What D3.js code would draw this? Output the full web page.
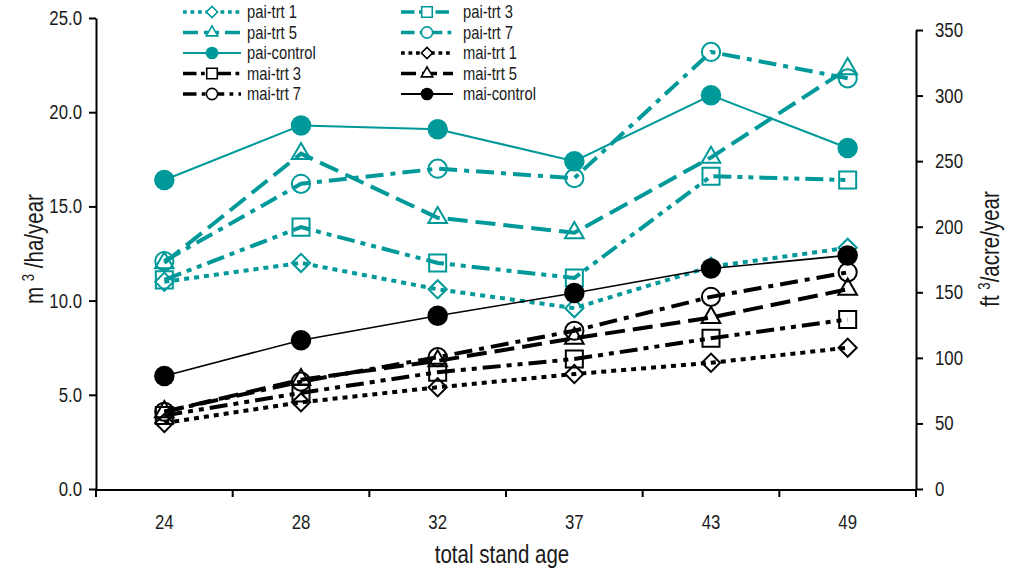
<!DOCTYPE html>
<html>
<head>
<meta charset="utf-8">
<script src="https://cdn.jsdelivr.net/npm/d3@7"></script>
<style>
  body { margin: 0; background: #fff; }
  text { font-family: "Liberation Sans", Arial, sans-serif; fill: #1a1a1a; }
</style>
</head>
<body>
<svg id="chart" width="1012" height="573"></svg>
<script>
// Stand age categories (x axis)
const ages = ["24", "28", "32", "37", "43", "49"];

// Periodic annual increment (m3/ha/year)
const paiTrt1    = [11.0, 12.0, 10.6, 9.6, 11.8, 12.8];
const paiTrt3    = [11.1, 13.9, 12.0, 11.2, 16.6, 16.4];
const paiTrt5    = [12.0, 17.8, 14.4, 13.6, 17.6, 22.3];
const paiTrt7    = [12.1, 16.2, 17.0, 16.5, 23.2, 21.8];
const paiControl = [16.4, 19.3, 19.1, 17.4, 20.9, 18.1];

// Mean annual increment (m3/ha/year)
const maiTrt1    = [3.5, 4.6, 5.4, 6.1, 6.7, 7.5];
const maiTrt3    = [3.9, 5.1, 6.2, 6.9, 8.0, 9.0];
const maiTrt5    = [4.1, 5.8, 6.8, 8.0, 9.1, 10.6];
const maiTrt7    = [4.1, 5.7, 7.0, 8.4, 10.2, 11.5];
const maiControl = [6.0, 7.9, 9.2, 10.4, 11.7, 12.4];

// Axis ticks
const metricTicks = [0, 5, 10, 15, 20, 25];
const imperialTicks = [0, 50, 100, 150, 200, 250, 300, 350];

const TEAL = "#009999";
const BLACK = "#000000";
const NARROW = 0.82;   // horizontal squeeze giving a narrow sans face

const dashes = {
  dot: "5,5",
  dashDotDot: "18,6,5,6,5,6",
  longDash: "20,8",
  dashDot: "18,7,5,7",
  solid: null
};

const series = [
  { name: "pai-trt 1",   values: paiTrt1,    color: TEAL,  dash: "dot",        marker: "diamond",  filled: false, width: 4 },
  { name: "pai-trt 3",   values: paiTrt3,    color: TEAL,  dash: "dashDotDot", marker: "square",   filled: false, width: 4 },
  { name: "pai-trt 5",   values: paiTrt5,    color: TEAL,  dash: "longDash",   marker: "triangle", filled: false, width: 4 },
  { name: "pai-trt 7",   values: paiTrt7,    color: TEAL,  dash: "dashDot",    marker: "circle",   filled: false, width: 4 },
  { name: "pai-control", values: paiControl, color: TEAL,  dash: "solid",      marker: "circle",   filled: true,  width: 2 },
  { name: "mai-trt 1",   values: maiTrt1,    color: BLACK, dash: "dot",        marker: "diamond",  filled: false, width: 4 },
  { name: "mai-trt 3",   values: maiTrt3,    color: BLACK, dash: "dashDotDot", marker: "square",   filled: false, width: 4 },
  { name: "mai-trt 5",   values: maiTrt5,    color: BLACK, dash: "longDash",   marker: "triangle", filled: false, width: 4 },
  { name: "mai-trt 7",   values: maiTrt7,    color: BLACK, dash: "dashDot",    marker: "circle",   filled: false, width: 4 },
  { name: "mai-control", values: maiControl, color: BLACK, dash: "solid",      marker: "circle",   filled: true,  width: 1.6 }
];

const svg = d3.select("#chart");

const plot = { left: 96, right: 916, top: 18, bottom: 489 };

const x = d3.scaleBand().domain(ages).range([plot.left, plot.right]).padding(0);
const yLeft = d3.scaleLinear().domain([0, 25]).range([plot.bottom, plot.top]);
const yRight = d3.scaleLinear().domain([0, 350]).range([plot.bottom, 30]);

const cx = d => x(d) + x.bandwidth() / 2;

// Squeeze text horizontally about its own anchor point
function condense(sel, k) {
  sel.each(function () {
    const t = d3.select(this);
    const tx = +t.attr("x") || 0, ty = +t.attr("y") || 0;
    t.attr("x", 0).attr("y", 0).attr("transform", `translate(${tx},${ty}) scale(${k},1)`);
  });
}

// Marker shapes, sized for the plot (scale = 1) or the legend (smaller)
function markerPath(type, filled, scale) {
  let sym, size;
  if (type === "circle") { sym = d3.symbolCircle; size = (filled ? 330 : 260) * scale * scale; }
  else if (type === "square") { sym = d3.symbolSquare; size = 290 * scale * scale; }
  else if (type === "triangle") { sym = d3.symbolTriangle; size = 150 * scale * scale; }
  else { sym = d3.symbolSquare; size = 165 * scale * scale; }
  return d3.symbol().type(sym).size(size)();
}

function drawMarker(g, s, px, py, scale, bgFill) {
  g.append("path")
    .attr("d", markerPath(s.marker, s.filled, scale))
    .attr("transform", `translate(${px},${py})` + (s.marker === "diamond" ? " rotate(45)" : ""))
    .attr("fill", s.filled ? s.color : bgFill)
    .attr("stroke", s.color)
    .attr("stroke-width", s.filled ? 0 : 2 * Math.max(scale, 0.8));
}

// Axes
const axisStyle = g => {
  g.selectAll("path.domain").attr("stroke", "#000").attr("stroke-width", 2);
  g.selectAll(".tick line").attr("stroke", "#000").attr("stroke-width", 2);
  g.selectAll("text").attr("font-size", 20.5).attr("fill", "#1a1a1a")
    .attr("font-family", '"Liberation Sans", Arial, sans-serif');
  condense(g.selectAll("text"), NARROW);
};

svg.append("g")
  .attr("transform", `translate(${plot.left},0)`)
  .call(d3.axisLeft(yLeft).tickValues(metricTicks).tickFormat(d3.format(".1f")).tickSize(7).tickSizeOuter(0).tickPadding(7))
  .call(axisStyle);

svg.append("g")
  .attr("transform", `translate(${plot.right},0)`)
  .call(d3.axisRight(yRight).tickValues(imperialTicks).tickSize(7).tickSizeOuter(0).tickPadding(12))
  .call(axisStyle);

const gBottom = svg.append("g")
  .attr("transform", `translate(0,${plot.bottom + 1})`)
  .call(d3.axisBottom(x).tickSize(0).tickSizeOuter(0).tickPadding(24))
  .call(axisStyle);
gBottom.selectAll(".tick line").remove();
gBottom.select("path.domain").attr("d", `M${plot.left},0H${plot.right}`);

// Category boundary ticks
const boundaries = ages.map(a => x(a)).concat([x.range()[1]]);
gBottom.selectAll("line.bound").data(boundaries).join("line")
  .attr("class", "bound")
  .attr("x1", d => d).attr("x2", d => d)
  .attr("y1", 0).attr("y2", 7)
  .attr("stroke", "#000").attr("stroke-width", 2);

// Axis titles
const leftTitle = svg.append("text")
  .attr("transform", `translate(43,249) rotate(-90) scale(${NARROW},1)`)
  .attr("text-anchor", "middle").attr("font-size", 25);
leftTitle.append("tspan").text("m  ");
leftTitle.append("tspan").text("3").attr("font-size", 16).attr("dy", -9);
leftTitle.append("tspan").text("  /ha/year").attr("dy", 9);

const rightTitle = svg.append("text")
  .attr("transform", `translate(999,249) rotate(-90) scale(${NARROW},1)`)
  .attr("text-anchor", "middle").attr("font-size", 25);
rightTitle.append("tspan").text("ft ");
rightTitle.append("tspan").text("3").attr("font-size", 16).attr("dy", -9);
rightTitle.append("tspan").text("/acre/year").attr("dy", 9);

svg.append("text")
  .attr("transform", `translate(502,563) scale(${NARROW},1)`)
  .attr("text-anchor", "middle").attr("font-size", 25)
  .text("total stand age");

// Series lines and markers
const line = d3.line().x((d, i) => cx(ages[i])).y(d => yLeft(d));

series.forEach(s => {
  const g = svg.append("g");
  g.append("path")
    .attr("d", line(s.values))
    .attr("fill", "none")
    .attr("stroke", s.color)
    .attr("stroke-width", s.width)
    .attr("stroke-dasharray", dashes[s.dash]);
  s.values.forEach((v, i) => drawMarker(g, s, cx(ages[i]), yLeft(v), 1, "none"));
});

// Legend (two columns, five rows)
const legendCols = [
  { x0: 183, x1: 241, tx: 247 },
  { x0: 401, x1: 453, tx: 463 }
];
const legendRows = [12, 32.5, 53, 73.5, 94];

series.forEach((s, i) => {
  const col = legendCols[i % 2];
  const ly = legendRows[Math.floor(i / 2)];
  const g = svg.append("g");
  g.append("line")
    .attr("x1", col.x0).attr("x2", col.x1)
    .attr("y1", ly).attr("y2", ly)
    .attr("stroke", s.color)
    .attr("stroke-width", s.dash === "solid" ? 2 : 3.5)
    .attr("stroke-dasharray", s.dash === "solid" ? null : dashes[s.dash].split(",").map(n => n * 0.75).join(","));
  drawMarker(g, s, (col.x0 + col.x1) / 2, ly, 0.62, "#fff");
  const t = g.append("text")
    .attr("x", col.tx).attr("y", ly + 6)
    .attr("font-size", 18)
    .text(s.name);
  condense(t, NARROW);
});
</script>
</body>
</html>
